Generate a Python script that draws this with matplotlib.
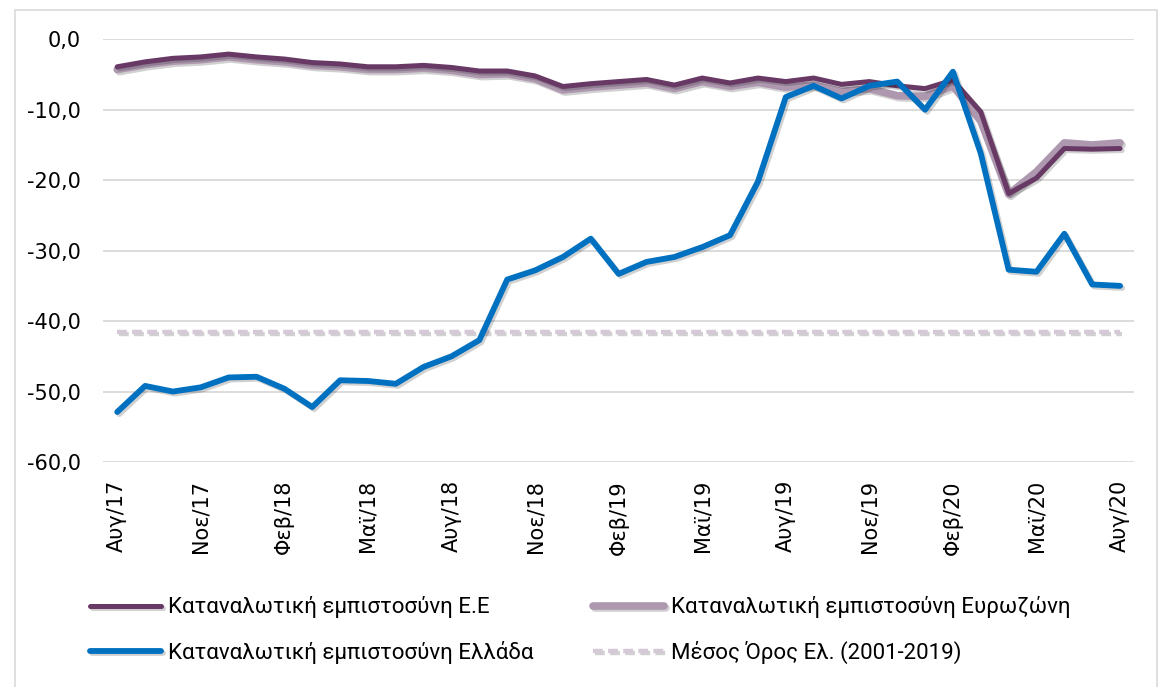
import matplotlib
matplotlib.use("Agg")
import matplotlib.pyplot as plt
import matplotlib.patheffects as pe
from matplotlib.patches import Rectangle
import numpy as np

months = ["Αυγ/17", "Σεπ/17", "Οκτ/17", "Νοε/17", "Δεκ/17", "Ιαν/18", "Φεβ/18", "Μαρ/18", "Απρ/18",
          "Μαϊ/18", "Ιουν/18", "Ιουλ/18", "Αυγ/18", "Σεπ/18", "Οκτ/18", "Νοε/18", "Δεκ/18", "Ιαν/19",
          "Φεβ/19", "Μαρ/19", "Απρ/19", "Μαϊ/19", "Ιουν/19", "Ιουλ/19", "Αυγ/19", "Σεπ/19", "Οκτ/19",
          "Νοε/19", "Δεκ/19", "Ιαν/20", "Φεβ/20", "Μαρ/20", "Απρ/20", "Μαϊ/20", "Ιουν/20", "Ιουλ/20",
          "Αυγ/20"]

eu = [-3.9, -3.2, -2.7, -2.5, -2.1, -2.5, -2.8, -3.3, -3.5, -3.9, -3.9, -3.7, -4.0, -4.5, -4.5,
      -5.2, -6.7, -6.3, -6.0, -5.7, -6.5, -5.5, -6.2, -5.5, -6.0, -5.5, -6.4, -6.0, -6.6, -7.0,
      -5.8, -10.3, -21.9, -19.7, -15.5, -15.6, -15.5]
ea = [-4.3, -3.6, -3.1, -2.9, -2.5, -2.9, -3.2, -3.7, -3.9, -4.3, -4.3, -4.1, -4.4, -5.0, -4.9,
      -5.6, -7.2, -6.8, -6.5, -6.2, -7.0, -6.0, -6.7, -6.1, -6.8, -6.5, -7.4, -7.0, -8.0, -8.1,
      -6.6, -11.6, -22.0, -18.8, -14.7, -15.0, -14.7]
gr = [-52.9, -49.2, -50.0, -49.4, -48.0, -47.9, -49.6, -52.2, -48.4, -48.5, -48.9, -46.5, -45.0,
      -42.7, -34.1, -32.8, -30.9, -28.3, -33.3, -31.6, -30.9, -29.5, -27.8, -20.2, -8.2, -6.6,
      -8.4, -6.6, -6.0, -10.0, -4.6, -16.2, -32.7, -33.0, -27.6, -34.8, -35.0]
avg_value = -41.5

labels = ["Καταναλωτική εμπιστοσύνη Ε.Ε", "Καταναλωτική εμπιστοσύνη Ευρωζώνη",
          "Καταναλωτική εμπιστοσύνη Ελλάδα", "Μέσος Όρος Ελ. (2001-2019)"]
yticks = [0, -10, -20, -30, -40, -50, -60]

W, H = 1160, 687
fig = plt.figure(figsize=(W / 100, H / 100), dpi=100)
fig.patches.append(Rectangle((15 / W, -0.05), (1157 - 15) / W, 1.05 - 10 / H,
                             transform=fig.transFigure, fill=False, edgecolor="#D9D9D9", lw=1.2))

ax = fig.add_axes([103.3 / W, 1 - 462 / H, (1134 - 103.3) / W, (462 - 39.3) / H])
x = np.arange(len(months))

shadow = [pe.SimpleLineShadow(offset=(1.5, -1.5), shadow_color="black", alpha=0.18), pe.Normal()]

l4, = ax.plot(x, [avg_value] * len(x), color="#D5C8D7", lw=3.2, dashes=(2.2, 1.2),
              label=labels[3], path_effects=shadow, zorder=2)
l2, = ax.plot(x, ea, color="#AE98B0", lw=5.5, label=labels[1], path_effects=shadow, zorder=3,
              solid_joinstyle="round", solid_capstyle="round")
l1, = ax.plot(x, eu, color="#673964", lw=3.6, label=labels[0], path_effects=shadow, zorder=4,
              solid_joinstyle="round", solid_capstyle="round")
l3, = ax.plot(x, gr, color="#0070C0", lw=4.2, label=labels[2], path_effects=shadow, zorder=5,
              solid_joinstyle="round", solid_capstyle="round")
for l in (l1, l2, l3, l4):
    l.set_clip_on(False)

ax.set_xlim(-0.5, len(x) - 0.5)
ax.set_ylim(-60, 0)
ax.set_yticks(yticks)
ax.set_yticklabels([f"{v:.1f}".replace(".", ",") for v in yticks])
ax.yaxis.grid(True, color="#D9D9D9", lw=1.3)
ax.set_axisbelow(True)
ax.set_xticks(x[::3])
ax.set_xticklabels(months[::3], rotation=90)
for s in ax.spines.values():
    s.set_visible(False)
ax.tick_params(axis="both", length=0, labelsize=15, colors="black")
ax.tick_params(axis="y", pad=16)
ax.tick_params(axis="x", pad=13)

leg = fig.legend(handles=[l1, l3, l2, l4], labels=[labels[0], labels[2], labels[1], labels[3]],
                 ncol=2, loc="center left", bbox_to_anchor=(70 / W, 1 - 630 / H),
                 frameon=False, handlelength=3.2, handletextpad=0.3, columnspacing=2.7,
                 labelspacing=1.0,
                 prop={"family": ["Roboto", "DejaVu Sans"], "size": 16})

fig.savefig("out.png", dpi=100)
